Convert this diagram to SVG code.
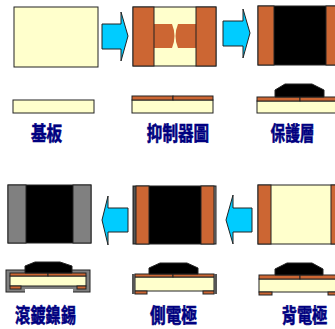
<svg xmlns="http://www.w3.org/2000/svg" width="335" height="329" viewBox="0 0 335 329">
  <style>
    .sub { fill: #FFFFCC; stroke: #222; stroke-width: 1; }
    .el { fill: #CC6633; stroke: #222; stroke-width: 1; }
    .elf { fill: #CC6633; }
    .blk { fill: #000; stroke: #222; stroke-width: 1; }
    .ni { fill: #808080; stroke: #222; stroke-width: 1; }
    .side { fill: #555; }
    .arrow { fill: #00CCFF; stroke: #222; stroke-width: 1; stroke-linejoin: miter; }
    .lbl { font-family: "Noto Sans CJK TC", "Noto Sans CJK SC", sans-serif; font-weight: bold; font-size: 20px; fill: #000080; stroke: #000080; stroke-width: 0.6; text-anchor: middle; }
  </style>

  <!-- step 1: bare substrate -->
  <g id="substrate">
    <rect class="sub" x="14" y="7" width="84" height="60"/>
    <rect class="sub" x="13" y="100" width="81" height="13"/>
    <text class="lbl" transform="translate(46.5,141) scale(0.78,1)">基板</text>
  </g>

  <!-- step 2: resistor pattern -->
  <g id="resistor">
    <rect class="sub" x="133" y="7" width="83" height="59"/>
    <path class="elf" d="M153,24 H172 Q177,36 172,48 H153 Z"/>
    <path class="elf" d="M197,24 H178 Q173,36 178,48 H197 Z"/>
    <rect class="el" x="133" y="7" width="21" height="59"/>
    <rect class="el" x="196" y="7" width="20" height="59"/>
    <rect class="sub" x="132" y="100" width="81" height="13"/>
    <rect class="el" x="132" y="96" width="41" height="4"/>
    <rect class="el" x="173" y="96" width="40" height="4"/>
    <text class="lbl" transform="translate(178,141) scale(0.78,1)">抑制器圖</text>
  </g>

  <!-- step 3: protective coat -->
  <g id="coating">
    <rect class="blk" x="258" y="6" width="82" height="59"/>
    <rect class="el" x="258" y="6" width="16" height="59"/>
    <rect class="el" x="326" y="6" width="14" height="59"/>
    <rect class="sub" x="257" y="101" width="83" height="12"/>
    <rect class="el" x="257" y="97" width="43" height="4"/>
    <rect class="el" x="300" y="97" width="40" height="4"/>
    <polygon class="blk" points="275,97 275,90 285,84 312,84 324,90 324,97"/>
    <text class="lbl" transform="translate(292.5,141) scale(0.73,1)">保護層</text>
  </g>

  <!-- step 4: back electrode -->
  <g id="back-electrode">
    <rect class="sub" x="258" y="185" width="82" height="59"/>
    <rect class="el" x="258" y="185" width="13" height="59"/>
    <rect class="el" x="331" y="185" width="9" height="59"/>
    <rect class="sub" x="259" y="279" width="81" height="13"/>
    <rect class="el" x="259" y="275" width="41" height="4"/>
    <rect class="el" x="300" y="275" width="40" height="4"/>
    <rect class="el" x="259" y="292" width="13" height="3"/>
    <rect class="el" x="328" y="292" width="12" height="3"/>
    <polygon class="blk" points="275,275 275,269 287,263 312,263 323,269 323,275"/>
    <text class="lbl" transform="translate(304.5,323) scale(0.76,1)">背電極</text>
  </g>

  <!-- step 5: side electrode -->
  <g id="side-electrode">
    <rect class="blk" x="133" y="186" width="83" height="58"/>
    <rect class="side" x="133.5" y="186.5" width="3" height="57"/>
    <rect class="el" x="136" y="186" width="13" height="58"/>
    <rect class="el" x="201" y="186" width="13" height="58"/>
    <rect class="side" x="214" y="186.5" width="2" height="57"/>
    <rect class="sub" x="135" y="277" width="79" height="14"/>
    <rect class="el" x="135" y="274" width="38" height="3"/>
    <rect class="el" x="173" y="274" width="41" height="3"/>
    <rect class="el" x="135" y="291" width="12" height="3"/>
    <rect class="el" x="203" y="291" width="11" height="3"/>
    <rect class="side" x="132" y="274" width="3" height="20"/>
    <rect class="side" x="214" y="274" width="3" height="20"/>
    <polygon class="blk" points="149,274 149,268 160,263 187,263 198,268 198,274"/>
    <text class="lbl" transform="translate(173.5,323) scale(0.78,1)">側電極</text>
  </g>

  <!-- step 6: Ni/Sn plating -->
  <g id="plating">
    <rect class="blk" x="8" y="185" width="83" height="58"/>
    <rect class="ni" x="8" y="185" width="18" height="58"/>
    <rect class="ni" x="73" y="185" width="18" height="58"/>
    <rect class="ni" x="6" y="270" width="84" height="22"/>
    <rect class="sub" x="10" y="276" width="76" height="10"/>
    <rect class="el" x="10" y="273" width="38" height="3"/>
    <rect class="el" x="48" y="273" width="38" height="3"/>
    <rect fill="#fff" x="25" y="289" width="48" height="4"/>
    <rect class="el" x="10" y="286" width="11" height="3"/>
    <rect class="el" x="77" y="286" width="9" height="3"/>
    <polygon class="blk" points="25,273 25,266 35,262 60,262 72,266 72,273"/>
    <text class="lbl" transform="translate(45.5,323) scale(0.76,1)">滾鍍鎳錫</text>
  </g>

  <!-- process-flow arrows -->
  <g id="connectors">
    <polygon class="arrow" points="102,24 121,24 121,12 128,36 121,61 121,49 102,49"/>
    <polygon class="arrow" points="223,21 243,21 243,9 250,33 243,58 243,46 223,46"/>
    <polygon class="arrow" points="252,208 233,208 233,195 226,220 233,244 233,232 252,232"/>
    <polygon class="arrow" points="128,208 108,208 108,196 102,220 108,245 108,232 128,232"/>
  </g>
</svg>
